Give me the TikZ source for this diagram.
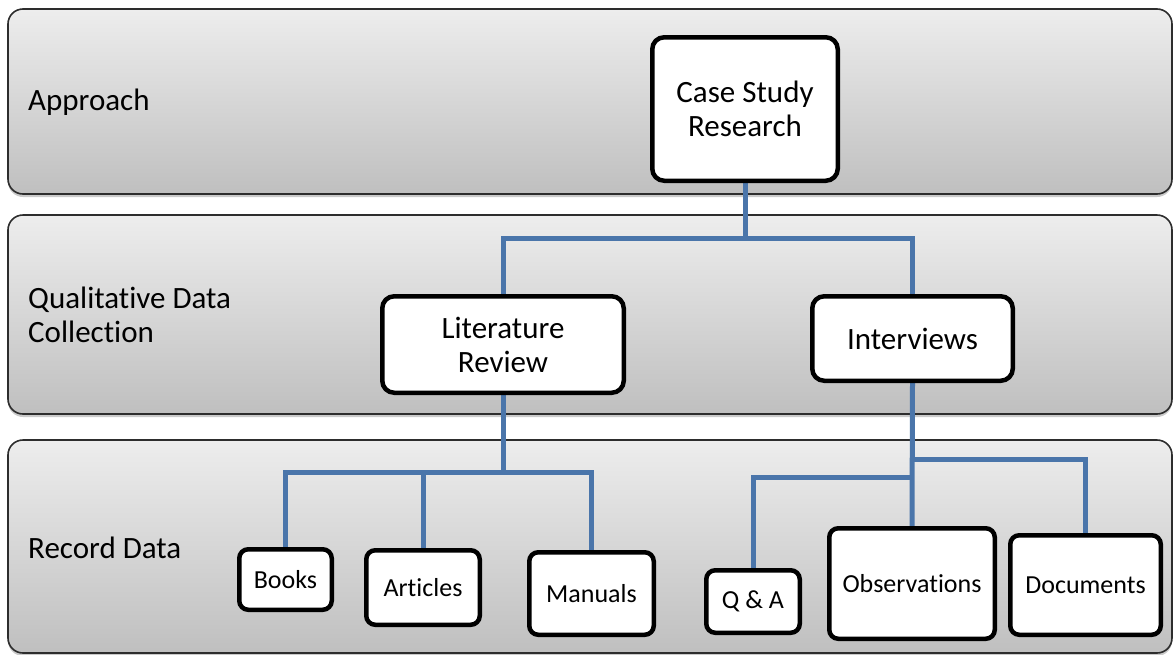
\documentclass[tikz,border=0pt]{standalone}
\usepackage{fontspec}
\setmainfont{Carlito}[Ligatures=NoCommon]
\usetikzlibrary{shadows}
\pgfdeclarelayer{bands}
\pgfdeclarelayer{links}
\pgfsetlayers{bands,links,main}
\definecolor{linkblue}{RGB}{74,117,170}
\definecolor{bandedge}{RGB}{45,45,45}
\tikzset{
  band/.style={draw=bandedge, line width=1.6pt, rounded corners=15pt,
    top color=black!7, bottom color=black!25, inner sep=0pt,
    drop shadow={shadow xshift=0pt, shadow yshift=-3pt, opacity=0.35, fill=black!60}},
  bandlabel/.style={anchor=west, align=left, inner sep=0pt, font=\fontsize{31}{34}\selectfont},
  bigbox/.style={draw=black, fill=white, line width=4.5pt, rounded corners=12pt,
    align=center, inner sep=0pt, font=\fontsize{31}{34}\selectfont},
  smallbox/.style={draw=black, fill=white, line width=4.5pt, rounded corners=9pt,
    align=center, inner sep=0pt, font=\fontsize{26}{30}\selectfont},
  link/.style={draw=linkblue, line width=5pt}
}
\begin{document}
\begin{tikzpicture}[x=1pt, y=-1pt]
\useasboundingbox (0,0) rectangle (1175,654);
\begin{pgfonlayer}{bands}
  \node[band, minimum width=1164pt, minimum height=185pt] (band1) at (590,101.5) {};
  \node[band, minimum width=1164pt, minimum height=199pt] (band2) at (590,314.5) {};
  \node[band, minimum width=1164pt, minimum height=213pt] (band3) at (590,546.5) {};
\end{pgfonlayer}
\node[bandlabel] (l1) at (28,102) {Approach};
\node[bandlabel] (l2) at (28,315) {Qualitative Data\\Collection};
\node[bandlabel] (l3) at (28,548) {Record Data};

\node[bigbox, minimum width=185.5pt, minimum height=143.5pt] (cs) at (745,109) {Case Study\\Research};
\node[bigbox, minimum width=241.5pt, minimum height=96.5pt] (lit) at (503,344.5) {Literature\\Review};
\node[bigbox, minimum width=200.5pt, minimum height=84.5pt] (int) at (912.5,338.5) {Interviews};

\node[smallbox, minimum width=92.5pt, minimum height=60.5pt] (books) at (285.5,579.5) {Books};
\node[smallbox, minimum width=113.5pt, minimum height=74.5pt] (articles) at (423,587.5) {Articles};
\node[smallbox, minimum width=124.5pt, minimum height=82.5pt] (manuals) at (591.5,593.5) {Manuals};
\node[smallbox, minimum width=93.5pt, minimum height=62.5pt] (qa) at (753,601.5) {Q \& A};
\node[smallbox, minimum width=165.5pt, minimum height=110.5pt] (obs) at (912,583.5) {Observations};
\node[smallbox, minimum width=150.5pt, minimum height=99.5pt] (docs) at (1085.5,585) {Documents};

\coordinate (j1) at (745,238);
\coordinate (j2) at (503,472);
\coordinate (j3) at (912,477);
\coordinate (j4) at (912,459);

\begin{pgfonlayer}{links}
  \draw[link] (cs.south) -- (j1) -| (lit.north);
  \draw[link] (j1) -| (int.north);
  \draw[link] (lit.south) -- (j2) -| (books.north);
  \draw[link] (j2) -| (articles.north);
  \draw[link] (j2) -| (manuals.north);
  \draw[link] (int.south) -- (obs.north);
  \draw[link] (j3) -| (qa.north);
  \draw[link] (j4) -| (docs.north);
\end{pgfonlayer}
\end{tikzpicture}
\end{document}
